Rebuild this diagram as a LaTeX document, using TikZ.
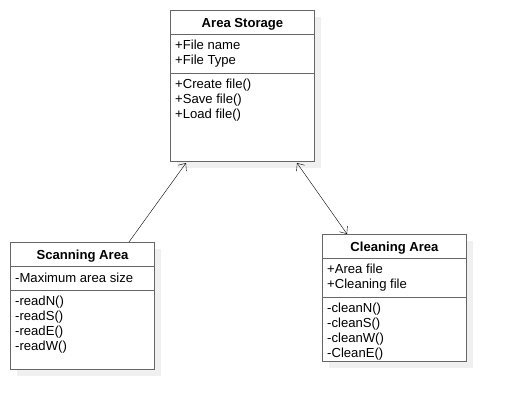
\documentclass[tikz,border=0pt]{standalone}
\usepackage{fontspec}
\setmainfont{Liberation Sans}
\usetikzlibrary{arrows.meta,shadows}

\tikzset{
	classbox/.style = {draw=black!60, line width=1pt, fill=white, rectangle, inner sep=0pt,
		anchor=north west, drop shadow={shadow xshift=6pt, shadow yshift=-6pt, fill=black!6, opacity=1}},
	classtitle/.style = {font=\fontsize{13.1}{15}\selectfont\bfseries, inner sep=0pt, anchor=base},
	member/.style = {font=\fontsize{13.1}{15}\selectfont, inner sep=0pt, anchor=base west},
	divider/.style = {draw=black!60, line width=1pt},
	assoc/.style = {thin, -{Straight Barb[length=6pt,width=10pt]}}
}

\begin{document}
\begin{tikzpicture}[x=1pt,y=-1pt]
	\useasboundingbox (0,0) rectangle (506,410);

	% Area Storage
	\node[classbox, minimum width=144pt, minimum height=151pt] (storage) at (170,10) {};
	\node[classtitle] (storage-title) at ([yshift=-17pt]storage.north) {Area Storage};
	\draw[divider] ([yshift=-24pt]storage.north west) -- ([yshift=-24pt]storage.north east);
	\draw[divider] ([yshift=-63pt]storage.north west) -- ([yshift=-63pt]storage.north east);
	\foreach \txt [count=\i] in {+File name, +File Type}
		\node[member] (storage-a\i) at ([xshift=5pt,yshift={-24pt-15pt*\i}]storage.north west) {\txt};
	\foreach \txt [count=\i] in {+Create file(), +Save file(), +Load file()}
		\node[member] (storage-m\i) at ([xshift=5pt,yshift={-63pt-15pt*\i}]storage.north west) {\txt};

	% Scanning Area
	\node[classbox, minimum width=144pt, minimum height=127pt] (scan) at (10,242) {};
	\node[classtitle] (scan-title) at ([yshift=-17pt]scan.north) {Scanning Area};
	\draw[divider] ([yshift=-24pt]scan.north west) -- ([yshift=-24pt]scan.north east);
	\draw[divider] ([yshift=-48pt]scan.north west) -- ([yshift=-48pt]scan.north east);
	\node[member] (scan-a1) at ([xshift=5pt,yshift=-40pt]scan.north west) {-Maximum area size};
	\foreach \txt [count=\i] in {-readN(), -readS(), -readE(), -readW()}
		\node[member] (scan-m\i) at ([xshift=5pt,yshift={-48pt-15pt*\i}]scan.north west) {\txt};

	% Cleaning Area
	\node[classbox, minimum width=144pt, minimum height=127pt] (clean) at (322,234) {};
	\node[classtitle] (clean-title) at ([yshift=-17pt]clean.north) {Cleaning Area};
	\draw[divider] ([yshift=-24pt]clean.north west) -- ([yshift=-24pt]clean.north east);
	\draw[divider] ([yshift=-63pt]clean.north west) -- ([yshift=-63pt]clean.north east);
	\foreach \txt [count=\i] in {+Area file, +Cleaning file}
		\node[member] (clean-a\i) at ([xshift=5pt,yshift={-24pt-15pt*\i}]clean.north west) {\txt};
	\foreach \txt [count=\i] in {-cleanN(), -cleanS(), -cleanW(), -CleanE()}
		\node[member] (clean-m\i) at ([xshift=5pt,yshift={-63pt-15pt*\i}]clean.north west) {\txt};

	% associations
	\draw[assoc] ([xshift=119pt]scan.north west) -- ([xshift=16pt,yshift=-1pt]storage.south west);
	\draw[assoc, {Straight Barb[length=6pt,width=10pt]}-{Straight Barb[length=6pt,width=10pt]}]
		([xshift=127pt,yshift=-1pt]storage.south west) -- ([xshift=25pt]clean.north west);

\end{tikzpicture}
\end{document}
